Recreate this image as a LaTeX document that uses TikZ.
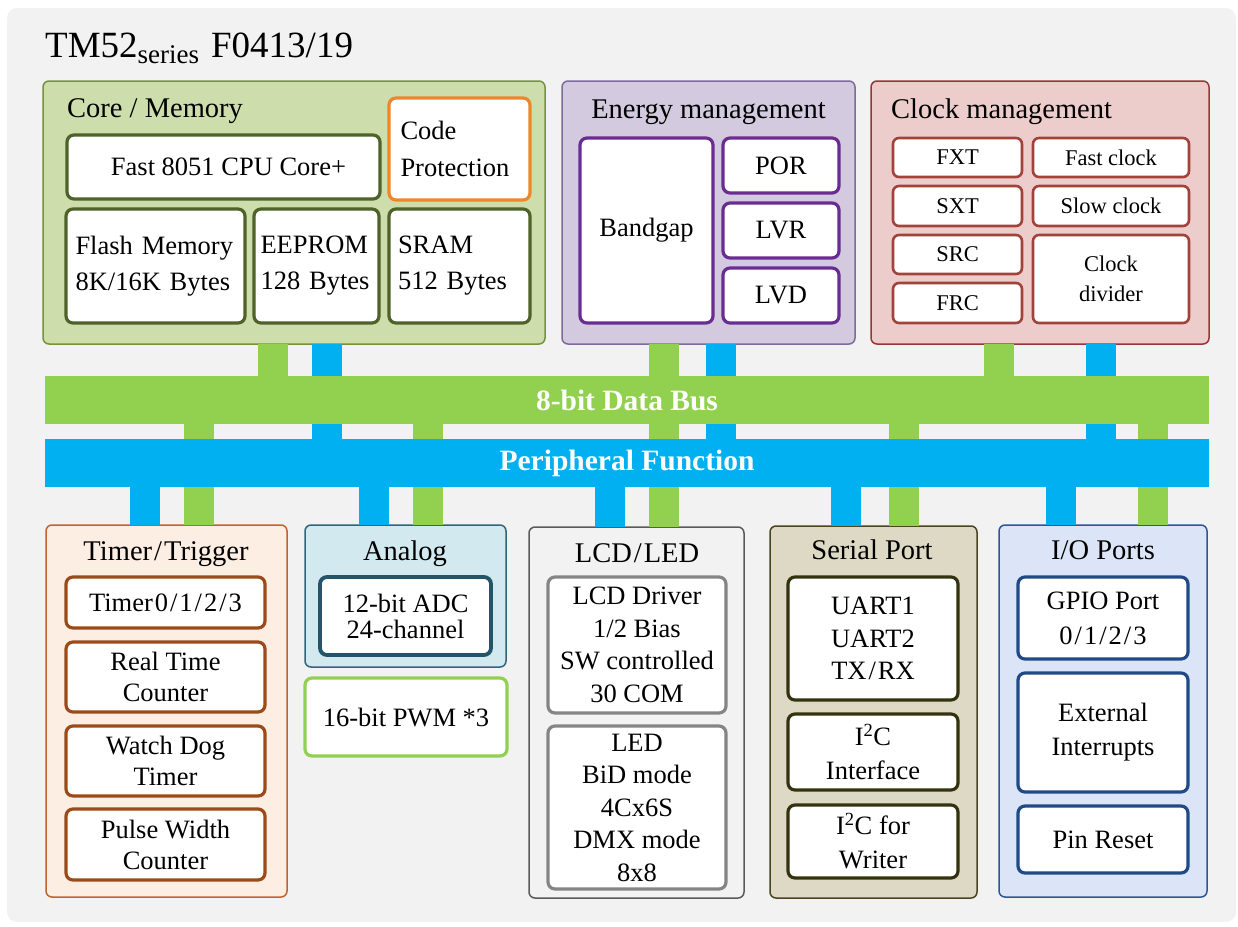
\documentclass[tikz,border=0pt]{standalone}
\usepackage{fontspec}
\setmainfont{Liberation Serif}
\definecolor{bggray}{HTML}{F2F2F2}
\definecolor{corefill}{HTML}{CDDDAC}
\definecolor{coreline}{HTML}{76923C}
\definecolor{coreunit}{HTML}{4F6228}
\definecolor{codeline}{HTML}{F0862A}
\definecolor{enfill}{HTML}{D3CADF}
\definecolor{enline}{HTML}{7F6A9B}
\definecolor{enunit}{HTML}{6A2C91}
\definecolor{clkfill}{HTML}{ECCDCB}
\definecolor{clkline}{HTML}{953735}
\definecolor{clkunit}{HTML}{A2433B}
\definecolor{busgreen}{HTML}{92D050}
\definecolor{busblue}{HTML}{00B0F0}
\definecolor{tmfill}{HTML}{FDEEE4}
\definecolor{tmline}{HTML}{BE642E}
\definecolor{tmunit}{HTML}{9C4A17}
\definecolor{anfill}{HTML}{D2E9EF}
\definecolor{anline}{HTML}{31657A}
\definecolor{anunit}{HTML}{245467}
\definecolor{lcdline}{HTML}{5A5A5A}
\definecolor{lcdunit}{HTML}{858585}
\definecolor{serfill}{HTML}{DDD9C4}
\definecolor{serline}{HTML}{4A4520}
\definecolor{serunit}{HTML}{333310}
\definecolor{iofill}{HTML}{DBE5F7}
\definecolor{ioline}{HTML}{2F5597}
\definecolor{iounit}{HTML}{1F4A86}
\newcommand{\spslash}{\kern2pt/\kern2pt}

\begin{document}
\begin{tikzpicture}[x=1pt,y=-1pt,
  panel/.style={draw,rounded corners=6pt,line width=1.5pt,outer sep=0pt,inner sep=0pt},
  unit/.style={draw,fill=white,rounded corners=7pt,line width=3.2pt,align=center,
    outer sep=0pt,inner sep=0pt,font=\fontsize{26.5}{32.5}\selectfont},
  cunit/.style={unit,draw=clkunit,line width=2.6pt,rounded corners=6pt,
    font=\fontsize{22.5}{30}\selectfont},
  ptitle/.style={anchor=base,inner sep=0pt,font=\fontsize{28.5}{30}\selectfont},
  bus/.style={minimum width=1164pt,minimum height=48pt,inner sep=0pt,outer sep=0pt,
    text=white,font=\bfseries\fontsize{29.5}{30}\selectfont},
  gline/.style={draw=busgreen,line width=30pt},
  bline/.style={draw=busblue,line width=30pt}]
\useasboundingbox (0,0) rectangle (1238,926);
\fill[bggray,rounded corners=10pt] (7,8) rectangle (1236,922);
\node[anchor=base west,inner sep=0pt,font=\fontsize{37}{40}\selectfont] (title) at (45,57)
  {TM52\raisebox{-6pt}{\fontsize{27}{27}\selectfont series}\kern12pt F0413/19};

% top row
\node[panel,fill=corefill,draw=coreline,minimum width=502pt,minimum height=263pt] (core) at (294,212.5) {};
\node[ptitle,anchor=base west] (coret) at (67,117) {Core / Memory};
\node[unit,draw=coreunit,minimum width=313pt,minimum height=64pt] (cpu) at (223.5,167) {\hspace*{10pt}Fast 8051 CPU Core+};
\node[unit,draw=codeline,minimum width=141pt,minimum height=102pt,text width=118pt,align=left,
  font=\fontsize{26.5}{37}\selectfont] (code) at (459.5,149) {Code\\Protection};
\node[unit,draw=coreunit,minimum width=179pt,minimum height=114pt,text width=160pt,align=left,
  font=\fontsize{26.5}{36}\selectfont] (flash) at (155.5,266) {Flash Memory\\8K/16K Bytes};
\node[unit,draw=coreunit,minimum width=125pt,minimum height=114pt,text width=112pt,align=left,
  font=\fontsize{26.5}{36}\selectfont] (eeprom) at (316.5,266) {EEPROM\\128 Bytes};
\node[unit,draw=coreunit,minimum width=141pt,minimum height=114pt,text width=123pt,align=left,
  font=\fontsize{26.5}{36}\selectfont] (sram) at (459.5,266) {SRAM\\512 Bytes};

\node[panel,fill=enfill,draw=enline,minimum width=293pt,minimum height=263pt] (energy) at (708.5,212.5) {};
\node[ptitle] (energyt) at (708.5,118) {Energy management};
\node[unit,draw=enunit,minimum width=133pt,minimum height=185pt] (bandgap) at (646.5,230.5) {Bandgap};
\node[unit,draw=enunit,minimum width=116pt,minimum height=55pt] (por) at (781,165.5) {POR};
\node[unit,draw=enunit,minimum width=116pt,minimum height=55pt] (lvr) at (781,230.5) {LVR};
\node[unit,draw=enunit,minimum width=116pt,minimum height=55pt] (lvd) at (781,295.5) {LVD};

\node[panel,fill=clkfill,draw=clkline,minimum width=338pt,minimum height=263pt] (clock) at (1040,212.5) {};
\node[ptitle,anchor=base west] (clockt) at (891,118) {Clock management};
\node[cunit,minimum width=129pt,minimum height=39pt] (fxt) at (957.5,157.5) {FXT};
\node[cunit,minimum width=129pt,minimum height=40pt] (sxt) at (957.5,206) {SXT};
\node[cunit,minimum width=129pt,minimum height=39pt] (src) at (957.5,254.5) {SRC};
\node[cunit,minimum width=129pt,minimum height=40pt] (frc) at (957.5,303) {FRC};
\node[cunit,minimum width=156pt,minimum height=39pt] (fastclk) at (1111,157.5) {Fast clock};
\node[cunit,minimum width=156pt,minimum height=40pt] (slowclk) at (1111,206) {Slow clock};
\node[cunit,minimum width=156pt,minimum height=88pt] (divider) at (1111,279) {Clock\\divider};

% buses
\node[bus,fill=busgreen] (databus) at (627,400) {8-bit Data Bus};
\node[bus,fill=busblue] (perbus) at (627,463) {Peripheral Function};

% bottom row
\node[panel,fill=tmfill,draw=tmline,minimum width=241pt,minimum height=372pt] (timer) at (166.5,711) {};
\node[ptitle] (timert) at (166,560) {Timer\spslash Trigger};
\node[unit,draw=tmunit,minimum width=199pt,minimum height=51pt] (tmr) at (165.5,602.5) {Timer\kern2pt 0\spslash 1\spslash 2\spslash 3};
\node[unit,draw=tmunit,minimum width=199pt,minimum height=70pt,font=\fontsize{26.5}{31}\selectfont] (rtc) at (165.5,677) {Real Time\\Counter};
\node[unit,draw=tmunit,minimum width=199pt,minimum height=70pt,font=\fontsize{26.5}{31}\selectfont] (wdt) at (165.5,761) {Watch Dog\\Timer};
\node[unit,draw=tmunit,minimum width=199pt,minimum height=71pt,font=\fontsize{26.5}{31}\selectfont] (pwc) at (165.5,844.5) {Pulse Width\\Counter};

\node[panel,fill=anfill,draw=anline,minimum width=201pt,minimum height=142pt] (analog) at (405.5,596) {};
\node[ptitle] (analogt) at (405,560) {Analog};
\node[unit,draw=anunit,line width=3.8pt,minimum width=171pt,minimum height=78pt,
  font=\fontsize{26.5}{26}\selectfont] (adc) at (405.5,616) {12-bit ADC\\24-channel};
\node[unit,draw=busgreen,minimum width=202pt,minimum height=78pt] (pwm) at (406,717) {16-bit PWM *3};

\node[panel,fill=bggray,draw=lcdline,minimum width=215pt,minimum height=371pt] (lcd) at (636.5,712.5) {};
\node[ptitle] (lcdt) at (637,562) {LCD\spslash LED};
\node[unit,draw=lcdunit,minimum width=178pt,minimum height=136pt] (drv) at (637,645) {LCD Driver\\1/2 Bias\\SW controlled\\30 COM};
\node[unit,draw=lcdunit,minimum width=178pt,minimum height=163pt] (led) at (637,807.5) {LED\\BiD mode\\4Cx6S\\DMX mode\\8x8};

\node[panel,fill=serfill,draw=serline,minimum width=207pt,minimum height=372pt] (serial) at (873.5,712) {};
\node[ptitle] (serialt) at (872,559) {Serial Port};
\node[unit,draw=serunit,minimum width=170pt,minimum height=123pt] (uart) at (873,638.5) {UART1\\UART2\\TX\spslash RX};
\node[unit,draw=serunit,minimum width=170pt,minimum height=76pt,font=\fontsize{26.5}{34}\selectfont] (iic) at (873,752) {I\textsuperscript{2}C\\Interface};
\node[unit,draw=serunit,minimum width=170pt,minimum height=73pt,font=\fontsize{26.5}{34}\selectfont] (iicw) at (873,841.5) {I\textsuperscript{2}C for\\Writer};

\node[panel,fill=iofill,draw=ioline,minimum width=208pt,minimum height=372pt] (io) at (1103,711) {};
\node[ptitle] (iot) at (1103,559) {I/O Ports};
\node[unit,draw=iounit,minimum width=170pt,minimum height=82pt,font=\fontsize{26.5}{35}\selectfont] (gpio) at (1103,618) {GPIO Port\\0\spslash 1\spslash 2\spslash 3};
\node[unit,draw=iounit,minimum width=170pt,minimum height=119pt,font=\fontsize{26.5}{34}\selectfont] (extint) at (1103,732.5) {External\\Interrupts};
\node[unit,draw=iounit,minimum width=170pt,minimum height=67pt] (pinrst) at (1103,839.5) {Pin Reset};

% bus links
\foreach \x/\a/\b in {273/core/databus,664/energy/databus,999/clock/databus,
    199/databus/perbus,428/databus/perbus,664/databus/perbus,904/databus/perbus,1153/databus/perbus,
    199/perbus/timer,428/perbus/analog,664/perbus/lcd,904/perbus/serial,1153/perbus/io}
  {\coordinate (c) at (\x,0);
   \draw[gline] (c |- \a.south) -- (c |- \b.north);}
\foreach \x/\a/\b in {327/core/databus,721/energy/databus,1101/clock/databus,
    327/databus/perbus,721/databus/perbus,1101/databus/perbus,
    145/perbus/timer,374/perbus/analog,610/perbus/lcd,846/perbus/serial,1061/perbus/io}
  {\coordinate (c) at (\x,0);
   \draw[bline] (c |- \a.south) -- (c |- \b.north);}
\end{tikzpicture}
\end{document}
